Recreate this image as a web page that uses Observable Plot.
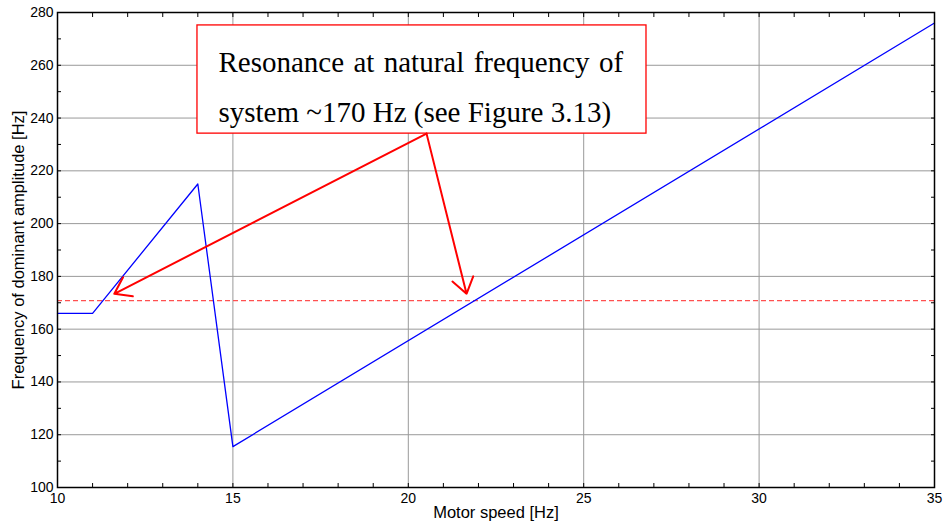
<!DOCTYPE html>
<html>
<head>
<meta charset="utf-8">
<script src="https://cdn.jsdelivr.net/npm/d3@7"></script>
<script src="https://cdn.jsdelivr.net/npm/@observablehq/plot@0.6"></script>
<style>
  html, body { margin: 0; padding: 0; background: #fff; }
  #chart { width: 944px; height: 524px; }
</style>
</head>
<body>
<div id="chart"></div>
<script>
// Data
const motorSpeed = [10, 11, 14, 15, 35];
const dominantFreq = [166, 166, 215, 115.5, 276];
const naturalFreq = 170.8;
const xTicks = [10, 15, 20, 25, 30, 35];
const yTicks = [100, 120, 140, 160, 180, 200, 220, 240, 260, 280];
const xMinorTicks = d3.range(10, 36, 1);
const yMinorTicks = d3.range(100, 281, 10);
const annotationLines = ["Resonance at natural frequency of", "system ~170 Hz (see Figure 3.13)"];
// annotation box (data coords) and arrows
const boxX = [13.99, 26.79];
const boxY = [234.1, 275.1];
const arrowFrom = [20.52, 234.1];
const arrowTips = [[11.62, 173.4], [21.66, 173.4]];

const series = motorSpeed.map((x, i) => ({x, y: dominantFreq[i]}));
const arrows = arrowTips.map(([x, y]) => ({x1: arrowFrom[0], y1: arrowFrom[1], x2: x, y2: y}));

const chart = Plot.plot({
  width: 944,
  height: 524,
  marginLeft: 57,
  marginRight: 10,
  marginTop: 12,
  marginBottom: 37,
  style: {fontFamily: "Liberation Sans, Arial, sans-serif", fontSize: "14px", color: "#000", background: "#fff"},
  x: {domain: [10, 35], label: null},
  y: {domain: [100, 280], label: null},
  marks: [
    Plot.gridX(xTicks, {stroke: "#999", strokeOpacity: 1, strokeWidth: 1}),
    Plot.gridY(yTicks, {stroke: "#999", strokeOpacity: 1, strokeWidth: 1}),
    Plot.ruleY([naturalFreq], {stroke: "#ff5050", strokeWidth: 1.2, strokeDasharray: "5,3"}),
    Plot.line(series, {x: "x", y: "y", stroke: "#0000ff", strokeWidth: 1.3}),
    Plot.rect([{x1: boxX[0], x2: boxX[1], y1: boxY[0], y2: boxY[1]}], {x1: "x1", x2: "x2", y1: "y1", y2: "y2", fill: "#fff", stroke: "#ff0000", strokeWidth: 1.3}),
    Plot.arrow(arrows, {x1: "x1", y1: "y1", x2: "x2", y2: "y2", stroke: "#ff0000", strokeWidth: 2, headLength: 14, headAngle: 70}),
    Plot.text([annotationLines.join("\n")], {
      x: boxX[0], y: boxY[1], text: d => d, textAnchor: "start", lineAnchor: "top",
      dx: 21, dy: 11, fontFamily: "Liberation Serif, Times New Roman, serif", fontSize: 29, lineHeight: 1.72, fill: "#000"
    }),
    Plot.frame({stroke: "#000", strokeWidth: 1.5}),
    Plot.axisX(xTicks, {anchor: "bottom", tickSize: 0, tickPadding: 6, label: null, fontSize: 14}),
    Plot.axisY(yTicks, {anchor: "left", tickSize: 0, tickPadding: 4, label: null, fontSize: 14}),
    Plot.axisX(xMinorTicks, {anchor: "bottom", tickSize: -4, text: null, label: null}),
    Plot.axisX(xMinorTicks, {anchor: "top", tickSize: -4, text: null, label: null}),
    Plot.axisY(yMinorTicks, {anchor: "left", tickSize: -4, text: null, label: null}),
    Plot.axisY(yMinorTicks, {anchor: "right", tickSize: -4, text: null, label: null}),
    Plot.text(["Motor speed [Hz]"], {frameAnchor: "bottom", dy: 25, text: d => d, fontSize: 16.5, lineAnchor: "middle"}),
    Plot.text(["Frequency of dominant amplitude [Hz]"], {frameAnchor: "left", dx: -39, rotate: -90, textAnchor: "middle", text: d => d, fontSize: 16.5})
  ]
});
document.getElementById("chart").appendChild(chart);
// stretch the first annotation line to the width of the second (justified text)
d3.select(chart).selectAll("text").each(function() {
  const tspans = this.querySelectorAll("tspan");
  if (tspans.length === 2 && tspans[0].textContent === annotationLines[0]) {
    const w0 = tspans[0].getComputedTextLength();
    const w1 = tspans[1].getComputedTextLength();
    const target = w1 + 12;
    const spaces = annotationLines[0].split(" ").length - 1;
    tspans[0].setAttribute("word-spacing", Math.max(0, (target - w0) / spaces));
  }
});
</script>
</body>
</html>
